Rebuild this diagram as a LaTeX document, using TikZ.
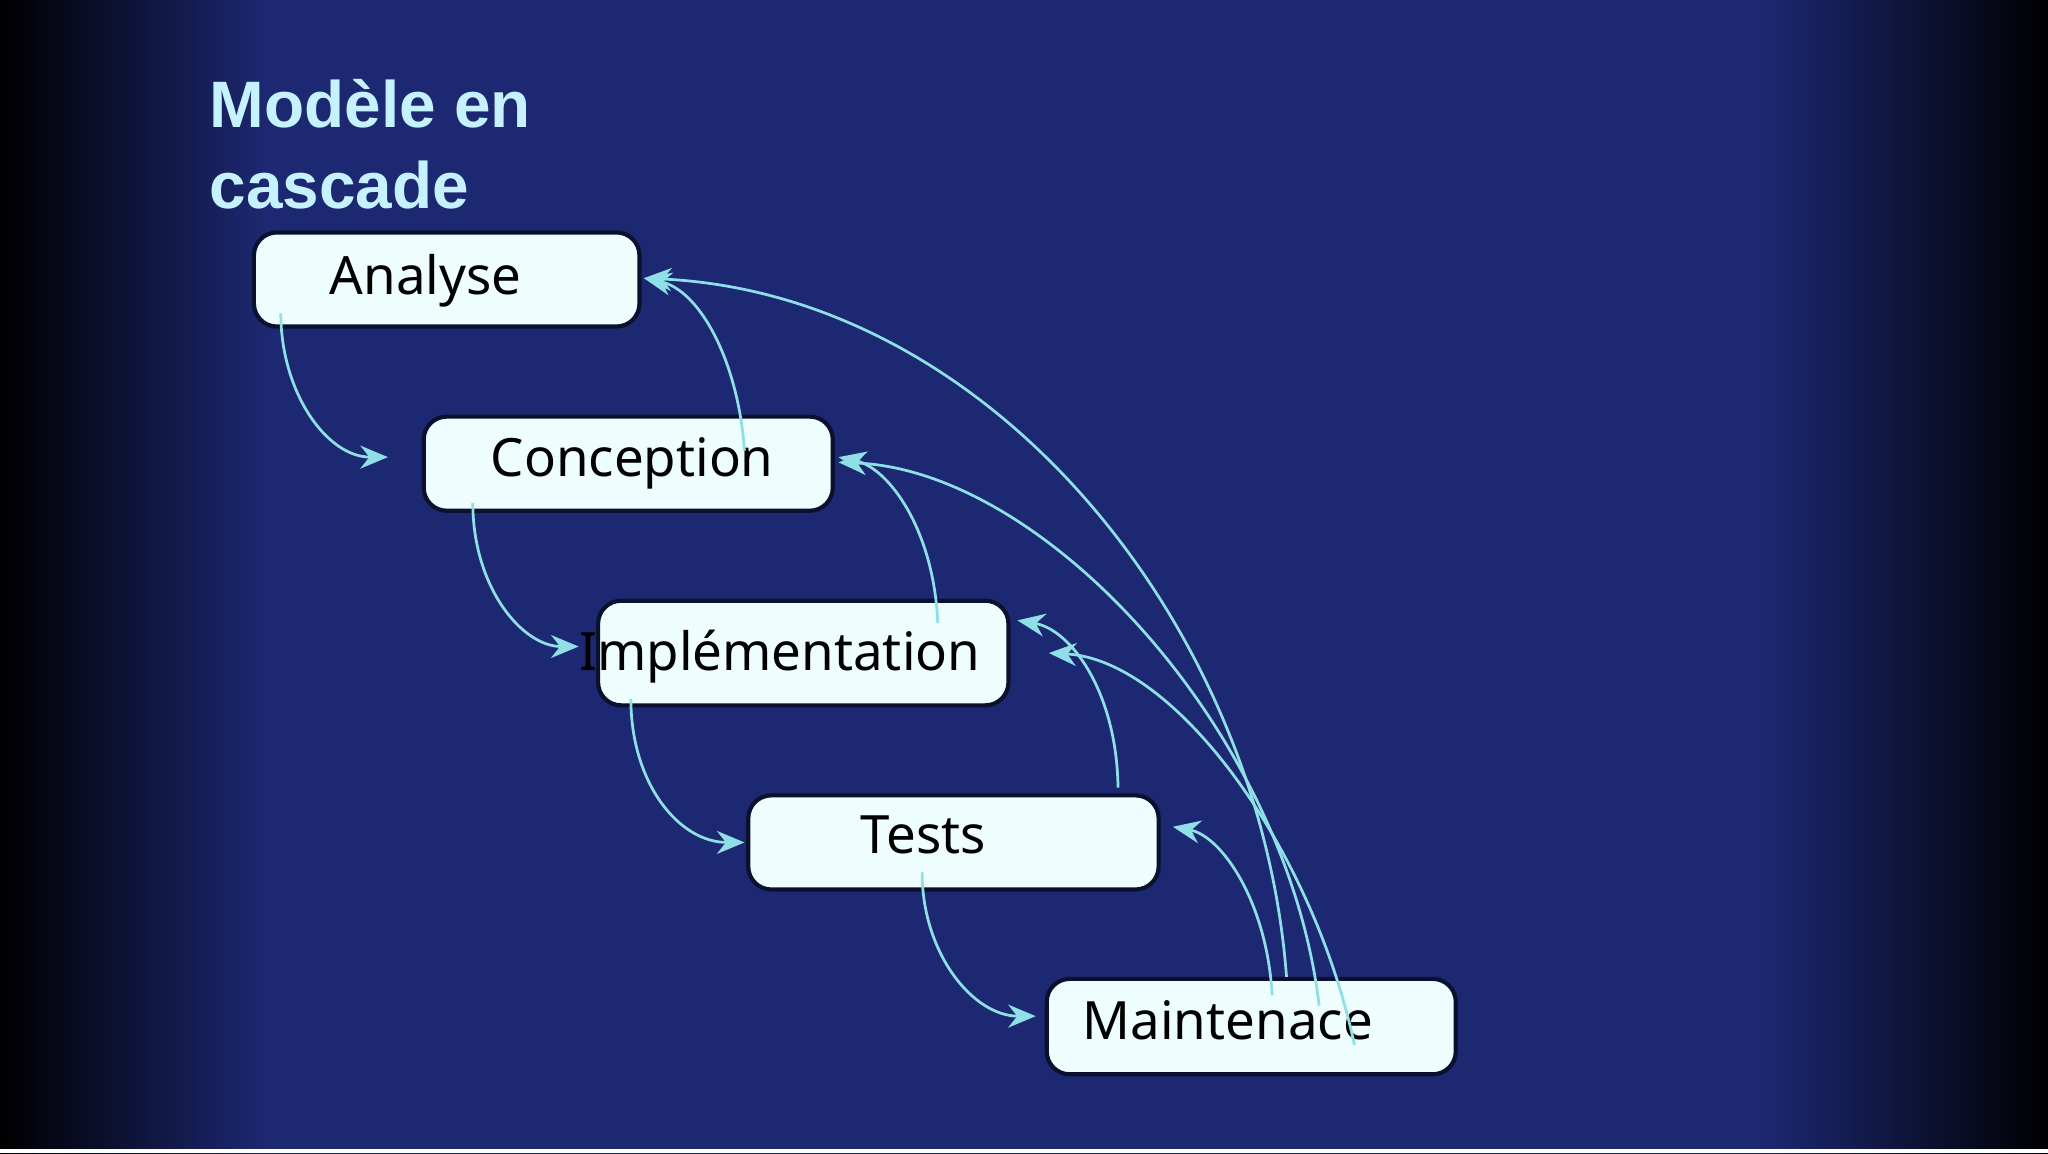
\documentclass[tikz,border=0pt]{standalone}
\usepackage{fontspec}
\setmainfont{Noto Sans}
\newfontfamily\titlefont{Liberation Sans}
\usetikzlibrary{arrows.meta}
\definecolor{navy}{HTML}{1C2872}
\definecolor{boxfill}{HTML}{EEFDFD}
\definecolor{arr}{HTML}{8EE0E6}
\definecolor{ttl}{HTML}{C6F2FF}
\pgfdeclarehorizontalshading{vigh}{100bp}{color(0bp)=(black); color(25bp)=(black); color(27bp)=(black!70!navy); color(31.5bp)=(navy); color(68bp)=(navy); color(73bp)=(black!70!navy); color(75bp)=(black); color(100bp)=(black)}
\tikzset{
  phase/.style={draw=black!60!navy, line width=0.9pt, fill=boxfill, rounded corners=5pt, inner sep=0pt},
  lbl/.style={font=\fontsize{11.5}{14}\selectfont},
  link/.style={draw=arr, line width=0.6pt, -{Stealth[length=6pt,width=5pt]}},
}
\begin{document}
\begin{tikzpicture}[x=0.01cm,y=-0.01cm]
\useasboundingbox (0,0) rectangle (1568,883);
\shade[shading=vigh] (0,0) rectangle (1568,883);
\fill[white] (0,880) rectangle (1568,883);
\node[anchor=north west, align=left, text=ttl, inner sep=0pt, font=\titlefont\bfseries\fontsize{14.3}{17.6}\selectfont] (title) at (160,60) {Modèle en\\cascade};
\node[phase, minimum width=2.95cm, minimum height=0.72cm] (a) at (342,214) {};
\node[lbl] at (326,215) (at) {Analyse};
\node[phase, minimum width=3.13cm, minimum height=0.72cm] (c) at (481,355) {};
\node[lbl] at (484,355) (ct) {Conception};
\node[phase, minimum width=3.14cm, minimum height=0.80cm] (i) at (615,500) {};
\node[lbl] at (597,503) (it) {Implémentation};
\node[phase, minimum width=3.14cm, minimum height=0.72cm] (t) at (730,645) {};
\node[lbl] at (707,639) (tt) {Tests};
\node[phase, minimum width=3.13cm, minimum height=0.73cm] (m) at (958,786) {};
\node[lbl] at (940,781) (mt) {Maintenace};
% endpoints
\coordinate (a1) at (215,240); \coordinate (c1) at (297,350);
\coordinate (c2) at (362,385); \coordinate (i1) at (443,495);
\coordinate (i2) at (483,535); \coordinate (t1) at (570,645);
\coordinate (t2) at (706,668); \coordinate (m1) at (793,778);
\coordinate (c3) at (570,345); \coordinate (a2) at (493,213);
\coordinate (i3) at (718,477); \coordinate (c4) at (642,350);
\coordinate (t3) at (856,603); \coordinate (i4) at (779,475);
\coordinate (m2) at (974,762); \coordinate (t4) at (898,633);
\coordinate (m3) at (985,748);
\coordinate (m4) at (1010,770); \coordinate (c5) at (642,354);
\coordinate (m5) at (1037,800); \coordinate (i5) at (803,500);
\draw[link] (a1) .. controls (215,300) and (250,350) .. (c1);
\draw[link] (c2) .. controls (362,450) and (400,495) .. (i1);
\draw[link] (i2) .. controls (483,600) and (520,645) .. (t1);
\draw[link] (t2) .. controls (706,730) and (745,778) .. (m1);
\draw[link] (c3) .. controls (565,275) and (535,222) .. (a2);
\draw[link] (i3) .. controls (715,405) and (680,358) .. (c4);
\draw[link] (t3) .. controls (855,530) and (820,482) .. (i4);
\draw[link] (m2) .. controls (970,690) and (935,640) .. (t4);
\draw[link] (m3) .. controls (965,480) and (760,225) .. (a2);
\draw[link] (m4) .. controls (985,560) and (800,360) .. (c5);
\draw[link] (m5) .. controls (1005,650) and (900,505) .. (i5);
\end{tikzpicture}
\end{document}
